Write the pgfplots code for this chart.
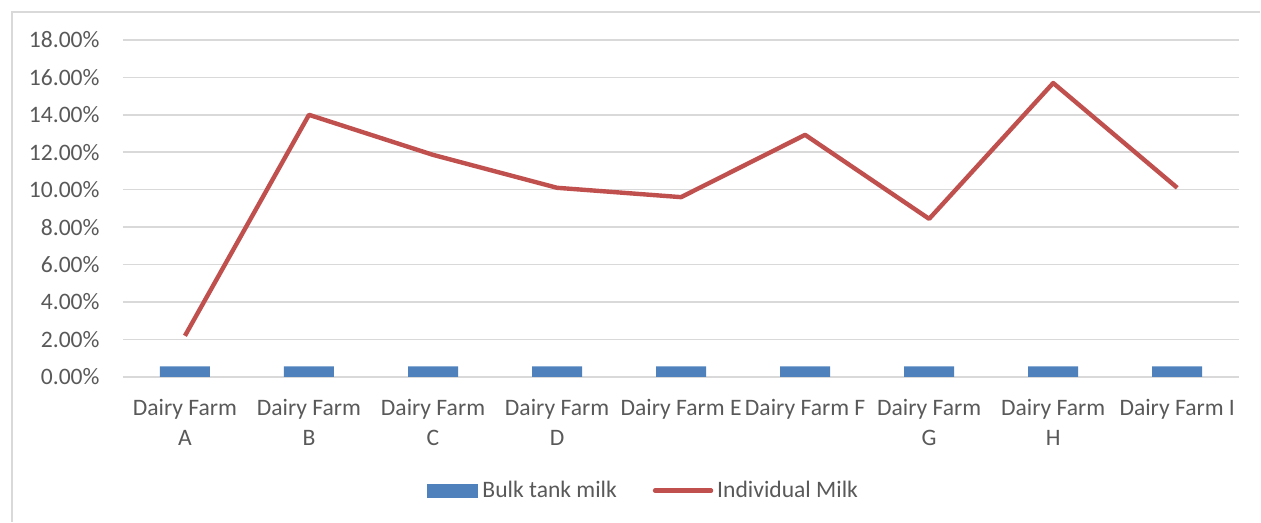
\documentclass[border=0pt]{standalone}
\usepackage{pgfplots}
\pgfplotsset{compat=1.18}
\usepackage{fontspec}
\setmainfont{Carlito}
\definecolor{txt}{HTML}{595959}
\definecolor{gridc}{HTML}{D9D9D9}
\definecolor{barblue}{HTML}{4F81BD}
\definecolor{linered}{HTML}{C0504D}
\begin{document}
\begin{tikzpicture}[font=\fontsize{11.8}{15}\selectfont]
\path (0,0) rectangle (630.5pt,261pt);
\draw[gridc, line width=0.75pt] (6pt,0pt) -- (6pt,255pt) -- (630.5pt,255pt);
\begin{axis}[
  at={(61.5pt,72.5pt)}, anchor=south west,
  scale only axis, width=558.5pt, height=168.5pt,
  xmin=-0.5, xmax=8.5, ymin=0, ymax=18,
  xtick={0,1,2,3,4,5,6,7,8},
  xticklabels={{Dairy Farm\\A},{Dairy Farm\\B},{Dairy Farm\\C},{Dairy Farm\\D},{Dairy Farm E},{Dairy Farm F},{Dairy Farm\\G},{Dairy Farm\\H},{Dairy Farm I}},
  xticklabel style={align=center, text=txt, inner sep=0pt, yshift=-11pt, text depth=0pt},
  ytick={0,2,4,6,8,10,12,14,16,18},
  yticklabels={0.00\%,2.00\%,4.00\%,6.00\%,8.00\%,10.00\%,12.00\%,14.00\%,16.00\%,18.00\%},
  yticklabel style={text=txt, inner sep=0pt, xshift=-11.5pt},
  major tick length=0pt,
  ymajorgrids, grid style={gridc, line width=0.75pt},
  axis x line*=bottom, axis y line*=left,
  x axis line style={gridc, line width=0.75pt, -},
  y axis line style={draw=none},
  legend columns=2,
  legend style={draw=none, at={(0.467,-0.338)}, anchor=center, text=txt,
     /tikz/every even column/.append style={column sep=16pt}, inner sep=0pt},
  clip=false,
]
\addplot[ybar, bar width=25pt, bar shift=0pt, fill=barblue, draw=none,
  legend image code/.code={\fill[barblue] (0pt,-3.5pt) rectangle (26pt,3.5pt);}]
  coordinates {(0,0.55) (1,0.55) (2,0.55) (3,0.55) (4,0.55) (5,0.55) (6,0.55) (7,0.55) (8,0.55)};
\addlegendentry{Bulk tank milk}
\addplot[linered, line width=2.2pt, mark=none, line join=round,
  legend image code/.code={\draw[linered, line width=2.2pt, line cap=round] (0pt,0pt) -- (28pt,0pt);}]
  coordinates {(0,2.19) (1,14.0) (2,11.86) (3,10.10) (4,9.6) (5,12.93) (6,8.44) (7,15.7) (8,10.1)};
\addlegendentry{Individual Milk}
\end{axis}
\end{tikzpicture}
\end{document}
